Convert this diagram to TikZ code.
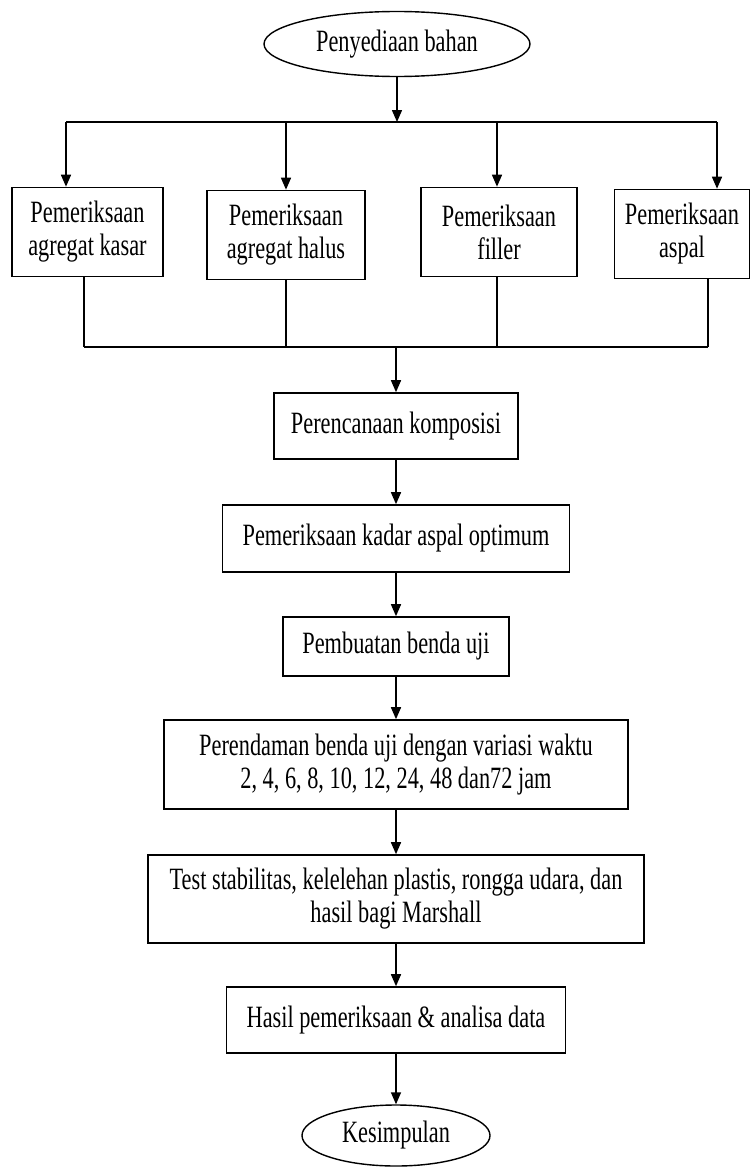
\documentclass[tikz,border=0pt]{standalone}
\usepackage{fontspec}
\setmainfont[FakeStretch=0.72]{Liberation Serif}
\usepackage{tikz}
\usetikzlibrary{shapes.geometric, arrows.meta, positioning, calc}

\begin{document}
\begin{tikzpicture}[x=1pt, y=-1pt,
    stepbox/.style={rectangle, draw, line width=1.6pt, text centered, align=center,
                    font=\fontsize{31}{33}\selectfont, inner sep=2pt},
    term/.style={ellipse, draw, line width=1.4pt, text centered, inner sep=1pt,
                 font=\fontsize{31}{33}\selectfont},
    arr/.style={-{Triangle[length=12pt, width=10pt]}, line width=1.5pt},
    ln/.style={line width=1.5pt}]

\useasboundingbox (0,0) rectangle (751,1167);

%% Start
\node[term, minimum width=266pt, minimum height=65pt] (start) at (397,44) {Penyediaan bahan};

%% Material checks
\node[stepbox, minimum width=151pt, minimum height=89pt] (kasar)  at (87.5,232) {Pemeriksaan\\agregat kasar};
\node[stepbox, minimum width=158pt, minimum height=89pt] (halus)  at (286,235)  {Pemeriksaan\\agregat halus};
\node[stepbox, minimum width=156pt, minimum height=89pt] (filler) at (499,232)  {Pemeriksaan\\filler};
\node[stepbox, minimum width=135pt, minimum height=89pt] (aspal)  at (682,234)  {Pemeriksaan\\aspal};

%% Main column
\node[stepbox, minimum width=244pt, minimum height=66pt] (komposisi) at (396,426)   {Perencanaan komposisi};
\node[stepbox, minimum width=347pt, minimum height=67pt] (kadar)     at (396,538.5) {Pemeriksaan kadar aspal optimum};
\node[stepbox, minimum width=226pt, minimum height=59pt] (benda)     at (396,646.5) {Pembuatan benda uji};
\node[stepbox, minimum width=464pt, minimum height=89pt] (rendam)    at (396,764.5)
    {Perendaman benda uji dengan variasi waktu\\2, 4, 6, 8, 10, 12, 24, 48 dan72 jam};
\node[stepbox, minimum width=496pt, minimum height=88pt] (test)      at (396,899)
    {Test stabilitas, kelelehan plastis, rongga udara, dan\\hasil bagi Marshall};
\node[stepbox, minimum width=339pt, minimum height=66pt] (hasil)     at (396,1020)  {Hasil pemeriksaan \& analisa data};
\node[term, minimum width=188pt, minimum height=61pt] (akhir) at (396,1135.5) {Kesimpulan};

%% Split bus
\coordinate (split) at (397,122);
\coordinate (s1) at (66,122);
\coordinate (s2) at (286,122);
\coordinate (s3) at (497,122);
\coordinate (s4) at (717,122);
\draw[arr] (start.south) -- (split);
\draw[ln] (s1) -- (s4);
\draw[arr] (s1) -- (s1 |- kasar.north);
\draw[arr] (s2) -- (s2 |- halus.north);
\draw[arr] (s3) -- (s3 |- filler.north);
\draw[arr] (s4) -- (s4 |- aspal.north);

%% Join bus
\coordinate (j1) at (84,347);
\coordinate (j2) at (286,347);
\coordinate (j3) at (497,347);
\coordinate (j4) at (708,347);
\coordinate (join) at (396,347);
\draw[ln] (j1 |- kasar.south) -- (j1);
\draw[ln] (j2 |- halus.south) -- (j2);
\draw[ln] (j3 |- filler.south) -- (j3);
\draw[ln] (j4 |- aspal.south) -- (j4);
\draw[ln] (j1) -- (j4);
\draw[arr] (join) -- (komposisi.north);

%% Main flow
\draw[arr] (komposisi) -- (kadar);
\draw[arr] (kadar) -- (benda);
\draw[arr] (benda) -- (rendam);
\draw[arr] (rendam) -- (test);
\draw[arr] (test) -- (hasil);
\draw[arr] (hasil) -- (akhir);

\end{tikzpicture}
\end{document}
